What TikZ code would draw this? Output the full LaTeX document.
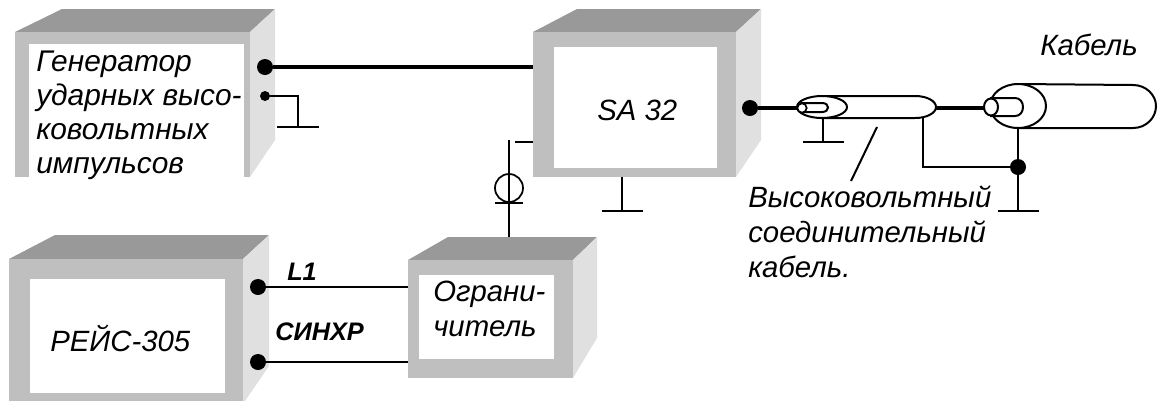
\documentclass[tikz,border=0pt]{standalone}
\usepackage{fontspec}
\setmainfont{Liberation Sans}
\usetikzlibrary{fit}
\tikzset{
  x=0.75pt,y=-0.75pt,
  topface/.style={fill=black!40,draw=none},
  sideface/.style={fill=black!12,draw=none},
  frontface/.style={rectangle,fill=black!25,draw=none,inner sep=0pt},
  windowface/.style={rectangle,fill=white,draw=none,inner sep=0pt},
  label/.style={inner sep=0pt,anchor=base west,align=left,font=\fontsize{22pt}{26pt}\selectfont\itshape},
  genlabel/.style={label,font=\fontsize{22.4pt}{25.5pt}\selectfont\itshape},
  boldlabel/.style={inner sep=0pt,anchor=base west,font=\fontsize{19pt}{22pt}\selectfont\bfseries\itshape},
  bigdot/.style={circle,fill=black,inner sep=0pt,minimum size=12pt},
  smalldot/.style={circle,fill=black,inner sep=0pt,minimum size=7.5pt},
  thickwire/.style={line width=3.2pt},
  signalwire/.style={line width=2pt},
  wire/.style={line width=1.5pt},
  cablepart/.style={line width=1.5pt,fill=white},
}
\begin{document}
\begin{tikzpicture}
\useasboundingbox (0,0) rectangle (1157,401);
% generator
\fill[topface] (15,32) -- (62,9) -- (275,9) -- (250,32) -- cycle;
\fill[sideface] (250,32) -- (275,9) -- (275,140) -- (250,177) -- cycle;
\node[frontface,fit={(15,32)(250,177)}] (gen) {};
\node[windowface,fit={(29,44)(244,177)}] (genw) {};
\node[genlabel] (gentext) at (36,173) {Генератор\\ударных высо-\\ковольтных\\импульсов};
% SA 32
\fill[topface] (533,32) -- (577,9) -- (761,9) -- (736,32) -- cycle;
\fill[sideface] (736,32) -- (761,9) -- (761,140) -- (736,177) -- cycle;
\node[frontface,fit={(533,32)(736,177)}] (sa) {};
\node[windowface,fit={(554,47)(717,168)}] (saw) {};
\node[label] (satext) at (597,120) {SA 32};
% REIS
\fill[topface] (9,259) -- (55,235) -- (269,235) -- (243,259) -- cycle;
\fill[sideface] (243,259) -- (269,235) -- (269,366) -- (245,401) -- (243,401) -- cycle;
\node[frontface,fit={(9,259)(243,401)}] (reis) {};
\node[windowface,fit={(30,279)(225,393)}] (reisw) {};
\node[label] (reistext) at (50,351) {РЕЙС-305};
% limiter
\fill[topface] (408,260) -- (448,237) -- (597,237) -- (573,260) -- cycle;
\fill[sideface] (573,260) -- (597,237) -- (597,338) -- (573,378) -- cycle;
\node[frontface,fit={(408,260)(573,378)}] (lim) {};
\node[windowface,fit={(419,275)(554,359)}] (limw) {};
\node[label] (limtext) at (433,336) {Ограни-\\читель};
% connector dots
\node[bigdot] (g1) at (265,67) {};
\node[smalldot] (g2) at (265,96) {};
\node[bigdot] (s1) at (750,108) {};
\node[bigdot] (r1) at (258,287) {};
\node[bigdot] (r2) at (258,362) {};
% generator connectors
\draw[thickwire] (g1) -- (g1 -| sa.west);
\coordinate (g2c) at (298,96);
\coordinate (g2g) at (298,127);
\coordinate (g2l) at (277,127);
\coordinate (g2r) at (319,127);
\draw[wire] (g2) -- (g2c) -- (g2g);
\draw[wire] (g2l) -- (g2r);
% reis to limiter
\draw[signalwire] (r1) -- (r1 -| lim.west);
\draw[signalwire] (r2) -- (r2 -| lim.west);
\node[boldlabel] (l1) at (287,280) {L1};
\node[boldlabel] (sync) at (275,340) {СИНХР};
% SA ground
\coordinate (sag) at (622,211);
\draw[wire] (sag |- sa.south) -- (sag);
\coordinate (sagl) at (602,211);
\coordinate (sagr) at (643,211);
\draw[wire] (sagl) -- (sagr);
% SA to limiter with sensor
\coordinate (st) at (509,140);
\coordinate (sb) at (509,237);
\coordinate (stl) at (515,142);
\draw[wire] (st) -- (sb);
\draw[wire] (stl) -- (stl -| sa.west);
\node[circle,draw,line width=1.3pt,minimum size=21pt,inner sep=0pt] (sens) at (509,188) {};
\coordinate (sbl) at (495,203);
\coordinate (sbr) at (523,203);
\draw[wire] (sbl) -- (sbr);
% cable 1
\coordinate (c1w) at (797,108);
\draw[thickwire] (s1) -- (c1w);
\draw[cablepart] (822,96) -- (915,96) .. controls (927,96) and (936,101) .. (936,107) .. controls (936,113) and (927,118) .. (915,118) -- (822,118) -- cycle;
\draw[cablepart] (822,107) ellipse [x radius=25,y radius=11];
\draw[cablepart] (802,103) -- (822,103) .. controls (826,103) and (828,105) .. (828,107.5) .. controls (828,110) and (826,112) .. (822,112) -- (802,112) -- cycle;
\node[circle,draw,fill=white,line width=1.3pt,minimum size=7pt,inner sep=0pt] (c1e) at (802,108) {};
\coordinate (c1g) at (823,142);
\coordinate (c1gt) at (823,118);
\draw[wire] (c1gt) -- (c1g);
\coordinate (c1gl) at (803,142);
\coordinate (c1gr) at (844,142);
\draw[wire] (c1gl) -- (c1gr);
% leader
\coordinate (la) at (877,127);
\coordinate (lb) at (851,181);
\draw[wire] (la) -- (lb);
% cable 2
\coordinate (c1o) at (936,108);
\coordinate (c2w) at (985,108);
\draw[thickwire] (c1o) -- (c2w);
\draw[cablepart] (1018,84) -- (1133,85) .. controls (1146,85) and (1156,95) .. (1156,106) .. controls (1156,118) and (1146,128) .. (1133,128) -- (1018,128) -- cycle;
\draw[cablepart] (1018,106) ellipse [x radius=28,y radius=22];
\draw[cablepart] (991,98) -- (1015,98) .. controls (1020,98) and (1023,102) .. (1023,107) .. controls (1023,112) and (1020,116) .. (1015,116) -- (991,116) -- cycle;
\draw[cablepart] (991,107) ellipse [x radius=7,y radius=8.5];
% bond and ground
\node[bigdot] (j) at (1018,167) {};
\coordinate (jt) at (1018,128);
\coordinate (jb) at (1018,211);
\coordinate (jc) at (923,167);
\coordinate (jct) at (923,118);
\draw[wire] (jt) -- (jb);
\draw[wire] (jct) -- (jc) -- (j);
\coordinate (jl) at (998,211);
\coordinate (jr) at (1039,211);
\draw[wire] (jl) -- (jr);
% labels
\node[label] (kab) at (1040,55) {Кабель};
\node[label] (hv) at (748,277) {Высоковольтный\\соединительный\\кабель.};
\end{tikzpicture}
\end{document}
